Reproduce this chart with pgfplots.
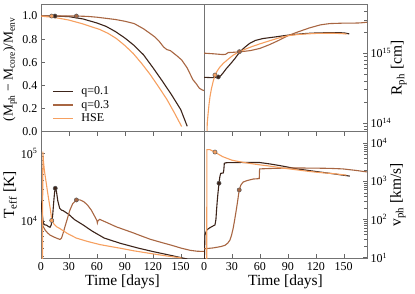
\documentclass[border=0pt]{standalone}
\usepackage{fontspec}
\setmainfont{Liberation Serif}
\usepackage{pgfplots}
\pgfplotsset{compat=1.18}

\definecolor{cA}{RGB}{60,36,26}
\definecolor{cB}{RGB}{168,102,66}
\definecolor{cC}{RGB}{246,160,96}

\pgfplotsset{
  base/.style={scale only axis, width=163pt, height=127pt, xmin=0, xmax=175,
    axis line style={black!55}, every tick/.style={black!60},
    tick label style={font=\fontsize{12}{13}\selectfont},
    label style={font=\fontsize{15.5}{18}\selectfont},
    /pgf/number format/assume math mode=true,
    every axis plot/.append style={line width=1.1pt},
    anchor=south west},
  mk/.style={only marks, mark=*, mark size=2.1pt, forget plot,
    mark options={fill=#1, draw=black!65, line width=0.5pt}},
  logtl/.style={log basis y=10, yticklabel={10\textsuperscript{\pgfmathprintnumber[fixed,precision=0]{\tick}}}},
}

\begin{document}
\begin{tikzpicture}
% ---------------- top left ----------------
\begin{axis}[base, at={(41pt,161.5pt)}, ymin=0, ymax=1.1,
  ytick={0,0.2,0.4,0.6,0.8,1.0}, yticklabels={0.0,0.2,0.4,0.6,0.8,1.0},
  ytick pos=left, xtick=\empty,
  ylabel={(M\textsubscript{ph} − M\textsubscript{core})/M\textsubscript{env}},
  ylabel style={at={(axis description cs:-0.19,0.49)}, anchor=center, font=\fontsize{13.5}{15}\selectfont},
  legend style={draw=none, fill=none, at={(0.05,0.385)}, anchor=north west,
    font=\fontsize{12}{13}\selectfont, row sep=0pt},
  legend cell align=left,
  legend image code/.code={\draw[#1] (0pt,0pt) -- (20pt,0pt); \path (26pt,0pt);}]
\addplot[cA] coordinates {(0,1.0)(15,1.0)(30,0.995)(45,0.975)(60,0.94)(70,0.91)(80,0.865)(90,0.81)(100,0.745)(110,0.665)(120,0.555)(130,0.44)(140,0.32)(150,0.19)(157,0.045)};
\addlegendentry{q=0.1}
\addplot[cB] coordinates {(0,1.0)(10,1.0)(20,1.0)(38,1.0)(50,0.997)(60,0.99)(70,0.98)(80,0.97)(90,0.955)(100,0.935)(110,0.89)(117,0.85)(122,0.82)(127,0.78)(131.5,0.733)(135,0.71)(139,0.70)(146,0.655)(151,0.62)(157,0.55)(163,0.45)(167,0.41)(170,0.375)(173,0.36)(175,0.355)};
\addlegendentry{q=0.3}
\addplot[cC] coordinates {(0,1.0)(5,0.995)(11.5,0.99)(20,0.98)(30,0.965)(45,0.932)(55,0.905)(63,0.884)(72,0.85)(81,0.805)(90,0.745)(99,0.676)(108,0.59)(117,0.496)(126,0.39)(135,0.28)(143,0.165)(151,0.043)};
\addlegendentry{HSE}
\addplot[mk=cA] coordinates {(15,1.0)};
\addplot[mk=cB] coordinates {(38,1.0)};
\addplot[mk=cC] coordinates {(11.5,1.0)};
\end{axis}
% ---------------- top right ----------------
\begin{axis}[base, at={(204pt,161.5pt)}, ymode=log, ymin=7.5e13, ymax=5e15,
  ytick pos=right, yticklabel pos=right, xtick=\empty, logtl,
  ylabel={R\textsubscript{ph} [cm]},
  ylabel style={at={(axis description cs:1.195,0.5)}, anchor=center}]
\addplot[cA] coordinates {(0,4.5e14)(8,4.45e14)(15.3,4.5e14)(17,4.6e14)(20,5.1e14)(24,6.0e14)(28,6.9e14)(33,8.3e14)(38.6,1.05e15)(44,1.22e15)(49,1.38e15)(55,1.52e15)(63,1.62e15)(75,1.7e15)(88,1.8e15)(100,1.87e15)(110,1.92e15)(120,1.95e15)(135,1.97e15)(145,1.97e15)(151,1.95e15)(156,1.89e15)};
\addplot[cB] coordinates {(0,1.0e15)(10,9.8e14)(20,9.55e14)(23,9.6e14)(26,1.02e15)(32,1.03e15)(40,1.05e15)(50,1.09e15)(60,1.17e15)(70,1.32e15)(80,1.52e15)(90,1.78e15)(100,2.0e15)(113,2.3e15)(125,2.55e15)(135,2.66e15)(150,2.7e15)(160,2.7e15)(168,2.72e15)(175,2.78e15)};
\addplot[cC] coordinates {(3.0,5e13)(3.5,1e14)(4.5,1.4e14)(5.5,1.9e14)(6.5,2.4e14)(8,3.1e14)(10,4.0e14)(11.8,4.8e14)(14,5.5e14)(17,6.3e14)(21,7.2e14)(26,8.2e14)(31,9.3e14)(38,1.05e15)(45,1.15e15)(52,1.25e15)(60,1.36e15)(70,1.5e15)(80,1.65e15)(90,1.78e15)(100,1.85e15)(110,1.89e15)(120,1.92e15)(130,1.93e15)(140,1.93e15)(148,1.91e15)(153,1.88e15)};
\addplot[mk=cA] coordinates {(15.3,4.55e14)};
\addplot[mk=cB] coordinates {(38,1.05e15)};
\addplot[mk=cC] coordinates {(11.8,4.85e14)};
\end{axis}
% ---------------- bottom left ----------------
\begin{axis}[base, at={(41pt,34.5pt)}, ymode=log, ymin=2800, ymax=2.1e5,
  ytick pos=left, xtick={0,30,60,90,120,150}, logtl,
  xlabel={Time [days]}, ylabel={T\textsubscript{eff} [K]},
  xlabel style={at={(axis description cs:0.5,-0.18)}, anchor=center},
  ylabel style={at={(axis description cs:-0.19,0.5)}, anchor=center}]
\addplot[cA] coordinates {(0,2.0e4)(1,1.4e4)(2.5,9.3e3)(4,8.8e3)(6,8.7e3)(8,8.3e3)(9.7,8.1e3)(11,8.8e3)(12.5,1.2e4)(13.5,1.8e4)(14.5,2.6e4)(15.3,3.05e4)(16.5,2.8e4)(18,2.0e4)(20,1.55e4)(22,1.45e4)(24,1.42e4)(26,1.36e4)(30,1.25e4)(36,1.05e4)(45,8.8e3)(55,7.1e3)(68,5.6e3)(85,4.7e3)(104,4.0e3)(120,3.55e3)(140,3.1e3)(152,2.85e3)(157,2.75e3)};
\addplot[cB] coordinates {(0,1.05e4)(2,8.5e3)(4.3,7.4e3)(7,6.7e3)(9.7,6.2e3)(14,5.8e3)(18,5.5e3)(20.4,5.35e3)(22,5.6e3)(24,6.8e3)(26,8.5e3)(28,1.05e4)(31,1.45e4)(34,1.8e4)(38,2.05e4)(42,2.05e4)(46,1.93e4)(50,1.72e4)(54,1.45e4)(58,1.15e4)(60,1.02e4)(60.5,9.4e3)(61,1.0e4)(63,1.06e4)(70,9.6e3)(81,8.2e3)(99,6.7e3)(104,6.3e3)(117,5.4e3)(130,4.8e3)(140,4.4e3)(150,4.0e3)(160,3.7e3)(168,3.58e3)(175,3.57e3)};
\addplot[cC] coordinates {(1.5,1500)(2.0,1.06e5)(2.7,7.5e4)(3.5,5.8e4)(4.5,4.6e4)(5.7,3.6e4)(7.0,2.7e4)(8.5,2.0e4)(10,1.5e4)(11.5,1.05e4)(14,9.0e3)(17,8.2e3)(20,7.8e3)(28,6.6e3)(38,5.6e3)(50,5.0e3)(63,4.5e3)(75,4.2e3)(86,3.95e3)(99,3.65e3)(110,3.45e3)(122,3.25e3)(135,3.05e3)(151,2.85e3)};
\addplot[mk=cA] coordinates {(15.3,3.05e4)};
\addplot[mk=cB] coordinates {(38,2.05e4)};
\addplot[mk=cC] coordinates {(11.5,1.02e4)};
\end{axis}
% ---------------- bottom right ----------------
\begin{axis}[base, at={(204pt,34.5pt)}, ymode=log, ymin=9.5, ymax=2e4,
  ytick pos=right, yticklabel pos=right, xtick={0,30,60,90,120,150}, logtl,
  xlabel={Time [days]}, ylabel={v\textsubscript{ph} [km/s]},
  xlabel style={at={(axis description cs:0.5,-0.18)}, anchor=center},
  ylabel style={at={(axis description cs:1.19,0.5)}, anchor=center}]
\addplot[cA] coordinates {(0,5)(0.5,12)(1,39)(2.9,53)(6,60)(9,66)(11.8,72)(12.8,100)(13.5,180)(14.3,320)(15.2,550)(16.1,885)(17,1.3e3)(17.9,1.6e3)(20.7,1.65e3)(21.3,2.0e3)(21.8,2.95e3)(24,3.05e3)(40,3.1e3)(60,3.08e3)(70,2.85e3)(80,2.6e3)(88.6,2.38e3)(100,2.1e3)(120,1.8e3)(140,1.55e3)(156.5,1.36e3)};
\addplot[cB] coordinates {(0,17)(10,18)(18,19.5)(22.5,21)(25.5,24)(27.9,29)(29.5,38)(31.4,60)(33,100)(35,200)(36.5,350)(37.8,590)(39.5,790)(42,950)(45.7,1.03e3)(52.8,1.14e3)(59.3,1.17e3)(59.7,2.1e3)(70,2.15e3)(85,2.2e3)(100,2.22e3)(120,2.2e3)(135,2.17e3)(149,2.1e3)(163,1.92e3)(175,1.75e3)};
\addplot[cC] coordinates {(2.9,5)(3.1,6.7e3)(6.5,6.7e3)(8.5,6.3e3)(11.8,5.8e3)(16,5.0e3)(20,4.4e3)(25,3.95e3)(30,3.55e3)(38,3.25e3)(48,2.95e3)(60,2.68e3)(70,2.5e3)(85,2.2e3)(100,1.98e3)(113,1.8e3)(125,1.68e3)(139,1.58e3)(153,1.44e3)};
\addplot[mk=cA] coordinates {(16.1,885)};
\addplot[mk=cB] coordinates {(37.8,590)};
\addplot[mk=cC] coordinates {(11.8,5.8e3)};
\end{axis}
\pgfresetboundingbox
\useasboundingbox (0,0) rectangle (415pt,293pt);
\end{tikzpicture}
\end{document}
